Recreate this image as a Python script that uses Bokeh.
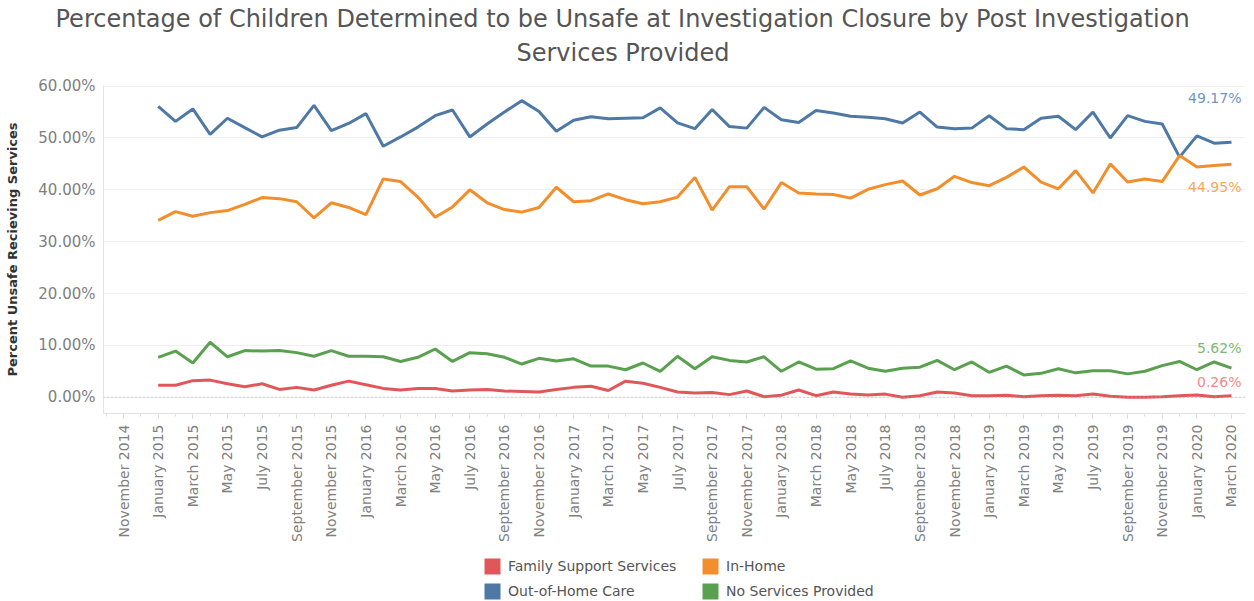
import math
import pandas as pd
from bokeh.plotting import figure
from bokeh.layouts import column
from bokeh.models import (ColumnDataSource, FixedTicker, PrintfTickFormatter, Span,
                          Title, Legend, LegendItem, Range1d)
from bokeh.core.properties import value
from bokeh.embed import file_html
from bokeh.resources import INLINE

# ---------------- data ----------------
months = pd.date_range("2015-01-01", "2020-03-01", freq="MS")
tick_months = pd.date_range("2014-11-01", "2020-03-01", freq="2MS")

out_of_home = [56.1, 53.2, 55.6, 50.7, 53.8, 52.0, 50.2, 51.5, 52.0, 56.3,
               51.4, 52.8, 54.7, 48.4, 50.2, 52.1, 54.3, 55.4, 50.2, 52.7,
               55.0, 57.2, 55.1, 51.3, 53.4, 54.1, 53.7, 53.8, 53.9, 55.8,
               52.9, 51.8, 55.5, 52.2, 51.9, 55.9, 53.5, 53.0, 55.3, 54.8,
               54.2, 54.0, 53.7, 52.9, 55.0, 52.1, 51.8, 51.9, 54.3, 51.8,
               51.6, 53.8, 54.2, 51.6, 55.0, 50.0, 54.3, 53.2, 52.7, 46.3,
               50.4, 49.0, 49.17]
in_home = [34.1, 35.8, 34.9, 35.6, 36.0, 37.2, 38.5, 38.3, 37.7, 34.6,
           37.5, 36.6, 35.2, 42.1, 41.6, 38.6, 34.7, 36.7, 40.0, 37.5,
           36.2, 35.7, 36.6, 40.5, 37.7, 37.9, 39.2, 38.1, 37.3, 37.7,
           38.6, 42.4, 36.1, 40.6, 40.6, 36.3, 41.4, 39.4, 39.2, 39.1,
           38.4, 40.1, 41.0, 41.7, 39.0, 40.2, 42.6, 41.4, 40.8, 42.4,
           44.4, 41.5, 40.2, 43.7, 39.4, 45.0, 41.5, 42.1, 41.6, 46.6,
           44.4, 44.7, 44.95]
no_services = [7.7, 8.9, 6.6, 10.6, 7.8, 9.0, 8.9, 9.0, 8.6, 7.9,
               9.0, 7.9, 7.9, 7.8, 6.9, 7.7, 9.3, 6.9, 8.6, 8.4,
               7.7, 6.4, 7.5, 7.0, 7.4, 6.0, 6.0, 5.3, 6.6, 5.0,
               7.9, 5.5, 7.8, 7.1, 6.8, 7.8, 5.0, 6.8, 5.4, 5.5,
               7.0, 5.6, 5.0, 5.6, 5.8, 7.1, 5.3, 6.8, 4.8, 6.0,
               4.3, 4.6, 5.5, 4.7, 5.1, 5.1, 4.5, 5.0, 6.1, 6.9,
               5.3, 6.8, 5.62]
family_support = [2.3, 2.3, 3.2, 3.3, 2.6, 2.0, 2.6, 1.5, 1.9, 1.4,
                  2.3, 3.1, 2.4, 1.7, 1.4, 1.7, 1.7, 1.2, 1.4, 1.5,
                  1.2, 1.1, 1.0, 1.5, 1.9, 2.1, 1.3, 3.1, 2.7, 1.9,
                  1.0, 0.8, 0.9, 0.5, 1.2, 0.1, 0.4, 1.4, 0.3, 1.0,
                  0.6, 0.45, 0.6, 0.0, 0.3, 1.0, 0.8, 0.3, 0.3, 0.4,
                  0.1, 0.3, 0.4, 0.3, 0.6, 0.2, 0.0, 0.0, 0.1, 0.3,
                  0.45, 0.1, 0.26]

series_names = ["Family Support Services", "Out-of-Home Care", "In-Home", "No Services Provided"]
series_values = [family_support, out_of_home, in_home, no_services]
series_colors = ["#E15759", "#4E79A7", "#F28E2B", "#59A14F"]
label_colors = ["#EE8A8B", "#7096C2", "#F6A65C", "#7DB873"]
label_dy = [-14, -44, 23, -20]   # pixel offsets of end labels

y_ticks = [0, 10, 20, 30, 40, 50, 60]

title_lines = ["Percentage of Children Determined to be Unsafe at Investigation Closure by Post Investigation",
               "Services Provided"]

FONT = "DejaVu Sans"
W = 1254


def month_index(ts):
    return (ts.year - 2015) * 12 + ts.month - 1


x_idx = [month_index(m) for m in months]
tick_idx = [month_index(m) for m in tick_months]
tick_labels = {i: m.strftime("%B %Y") for i, m in zip(tick_idx, tick_months)}

# ---------------- main chart ----------------
p = figure(width=W, height=553, x_range=(-3.16, 62.81), y_range=(-3.14, 60.12),
           output_backend="svg", toolbar_location=None,
           min_border_left=103, min_border_right=9, min_border_top=85, min_border_bottom=140)
p.outline_line_color = None
p.xgrid.grid_line_color = None
p.ygrid.grid_line_color = "#efefef"
p.ygrid.grid_line_width = 1

# two title lines (second line added first: it sits closest to the plot)
p.add_layout(Title(text=title_lines[1], align="left", offset=413, standoff=38,
                   text_font=FONT, text_font_size="24px", text_font_style="normal",
                   text_color="#555555"), "above")
p.add_layout(Title(text=title_lines[0], align="left", offset=-48, standoff=-31,
                   text_font=FONT, text_font_size="24px", text_font_style="normal",
                   text_color="#555555"), "above")

p.yaxis.ticker = FixedTicker(ticks=y_ticks)
p.yaxis.formatter = PrintfTickFormatter(format="%.2f%%")
p.yaxis.major_label_text_font = FONT
p.yaxis.major_label_text_font_size = "15px"
p.yaxis.major_label_text_color = "#808080"
p.yaxis.major_tick_line_color = None
p.yaxis.major_tick_out = 0
p.yaxis.major_tick_in = 0
p.yaxis.minor_tick_line_color = None
p.yaxis.axis_line_color = "#e3e3e3"
p.yaxis.major_label_standoff = 8
p.yaxis.axis_label = "Percent Unsafe Recieving Services"
p.yaxis.axis_label_text_font = FONT
p.yaxis.axis_label_text_font_size = "13px"
p.yaxis.axis_label_text_font_style = "bold"
p.yaxis.axis_label_text_color = "#333333"
p.yaxis.axis_label_standoff = 15

p.xaxis.ticker = FixedTicker(ticks=tick_idx, minor_ticks=list(range(-3, 63)))
p.xaxis.major_label_overrides = tick_labels
p.xaxis.major_label_orientation = math.pi / 2
p.xaxis.major_label_text_font = FONT
p.xaxis.major_label_text_font_size = "14px"
p.xaxis.major_label_text_color = "#808080"
p.xaxis.major_label_standoff = 6
p.xaxis.axis_line_color = "#e3e3e3"
p.xaxis.major_tick_line_color = "#d6d6d6"
p.xaxis.minor_tick_line_color = "#e3e3e3"
p.xaxis.major_tick_in = 0
p.xaxis.major_tick_out = 5
p.xaxis.minor_tick_in = 0
p.xaxis.minor_tick_out = 3

p.add_layout(Span(location=0, dimension="width", line_color="#a8a8a8",
                  line_dash="1 3", line_width=1))

for name, vals, col, lcol, dy in zip(series_names, series_values, series_colors,
                                     label_colors, label_dy):
    src = ColumnDataSource(dict(x=x_idx, y=vals))
    p.line("x", "y", source=src, line_width=3, line_color=col)
    p.text(x=[x_idx[-1]], y=[vals[-1]], text=[f"{vals[-1]:.2f}%"],
           text_align="right", text_baseline="middle", x_offset=10, y_offset=dy,
           text_font=value(FONT), text_font_size="14px", text_color=lcol)

# ---------------- legend (own strip below the chart) ----------------
lf = figure(width=W, height=48, output_backend="svg", toolbar_location=None,
            x_range=Range1d(0, 1), y_range=Range1d(0, 1),
            min_border_left=103, min_border_right=9, min_border_top=0, min_border_bottom=0)
lf.axis.visible = False
lf.grid.visible = False
lf.outline_line_color = None
nan = float("nan")
legend_items = []
for name, col in zip(series_names, series_colors):
    dummy = lf.quad(left=[nan], right=[nan], top=[nan], bottom=[nan],
                    fill_color=col, line_color=None)
    legend_items.append(LegendItem(label=name, renderers=[dummy]))

legend = Legend(items=legend_items, ncols=2, orientation="vertical", location=(379, 0),
                glyph_width=20, glyph_height=20, label_height=20, label_standoff=6,
                label_width=187, spacing=5, padding=0, margin=0,
                border_line_color=None, background_fill_alpha=0,
                label_text_font=FONT, label_text_font_size="14px",
                label_text_color="#555555")
lf.add_layout(legend)

layout = column(p, lf, spacing=0)
open("out.html", "w").write(file_html(layout, INLINE))
